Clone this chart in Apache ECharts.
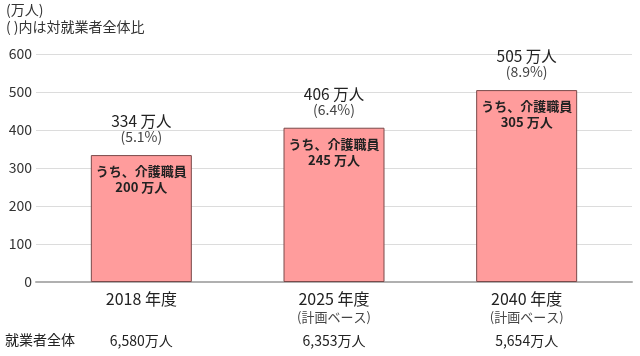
<!DOCTYPE html>
<html><head><meta charset="utf-8">
<script src="https://cdn.jsdelivr.net/npm/echarts@6/dist/echarts.min.js"></script>
<style>html,body{margin:0;padding:0;background:#fff}#c{width:640px;height:356px}</style>
</head><body><div id="c"></div>
<script>
const categories = ['2018 年度', '2025 年度', '2040 年度'];
const subLabels = ['', '(計画ベース)', '(計画ベース)'];
const totalWorkers = ['6,580万人', '6,353万人', '5,654万人'];
const careTotal = [334, 406, 505];
const shareOfWorkers = ['5.1%', '6.4%', '8.9%'];
const careStaff = [200, 245, 305];
const yTicks = [0, 100, 200, 300, 400, 500, 600];

const FONT = '"Noto Sans CJK JP", "Noto Sans", sans-serif';
const chart = echarts.init(document.getElementById('c'), null, {renderer: 'canvas'});
chart.setOption({
  animation: false,
  textStyle: {fontFamily: FONT},
  grid: [
    {left: 36, right: 8, top: 54, bottom: 74},
    {left: 45, right: 17, top: 54, bottom: 74}
  ],
  graphic: [
    {type: 'text', left: 6, top: 3, style: {text: '(万人)', font: '14px ' + FONT, fill: '#333'}},
    {type: 'text', left: 6, top: 20, style: {text: '( )内は対就業者全体比', font: '14px ' + FONT, fill: '#333'}},
    {type: 'text', left: 5, top: 333, style: {text: '就業者全体', font: '14px ' + FONT, fill: '#222'}}
  ],
  xAxis: [
    {gridIndex: 0, type: 'category', data: categories, show: true,
     axisLine: {show: true, lineStyle: {color: '#b0b0b0', width: 2}},
     axisTick: {show: false}, axisLabel: {show: false}},
    {gridIndex: 1, type: 'category', data: categories,
     axisLine: {show: false}, axisTick: {show: false},
     axisLabel: {
       margin: 8,
       formatter: function (v, i) {
         return '{y|' + v + '}\n{s|' + (subLabels[i] || ' ') + '}\n{t|' + totalWorkers[i] + '}';
       },
       rich: {
         y: {fontSize: 16, lineHeight: 18, color: '#222', fontFamily: FONT},
         s: {fontSize: 13, lineHeight: 18, color: '#444', fontFamily: FONT},
         t: {fontSize: 14, lineHeight: 30, color: '#222', fontFamily: FONT}
       }
     }}
  ],
  yAxis: [
    {gridIndex: 0, type: 'value', min: yTicks[0], max: yTicks[yTicks.length - 1], interval: 100,
     axisLine: {show: false}, axisTick: {show: false},
     axisLabel: {fontSize: 14, color: '#333', margin: 4, fontFamily: FONT},
     splitLine: {lineStyle: {color: '#dcdcdc', width: 1}}},
    {gridIndex: 1, type: 'value', min: 0, max: 600, interval: 100, show: false,
     splitLine: {show: false}}
  ],
  series: [
    {type: 'bar', xAxisIndex: 1, yAxisIndex: 1, data: careTotal, barWidth: 101,
     itemStyle: {color: '#ff9c9c', borderColor: '#7a4a4a', borderWidth: 1},
     label: {show: true, position: 'top', distance: 10,
       formatter: function (p) { return '{a|' + p.value + ' 万人}\n{b|(' + shareOfWorkers[p.dataIndex] + ')}'; },
       rich: {
         a: {fontSize: 15.5, lineHeight: 16, color: '#222', fontFamily: FONT},
         b: {fontSize: 14, lineHeight: 16, color: '#444', fontFamily: FONT}
       }}},
    {type: 'bar', xAxisIndex: 1, yAxisIndex: 1, data: careTotal, barWidth: 101, barGap: '-100%',
     itemStyle: {color: 'rgba(0,0,0,0)'}, silent: true,
     label: {show: true, position: 'insideTop', distance: 8,
       formatter: function (p) { return 'うち、介護職員\n' + careStaff[p.dataIndex] + ' 万人'; },
       fontSize: 13, lineHeight: 16, fontWeight: 'bold', color: '#222', fontFamily: FONT}}
  ]
});
</script></body></html>
